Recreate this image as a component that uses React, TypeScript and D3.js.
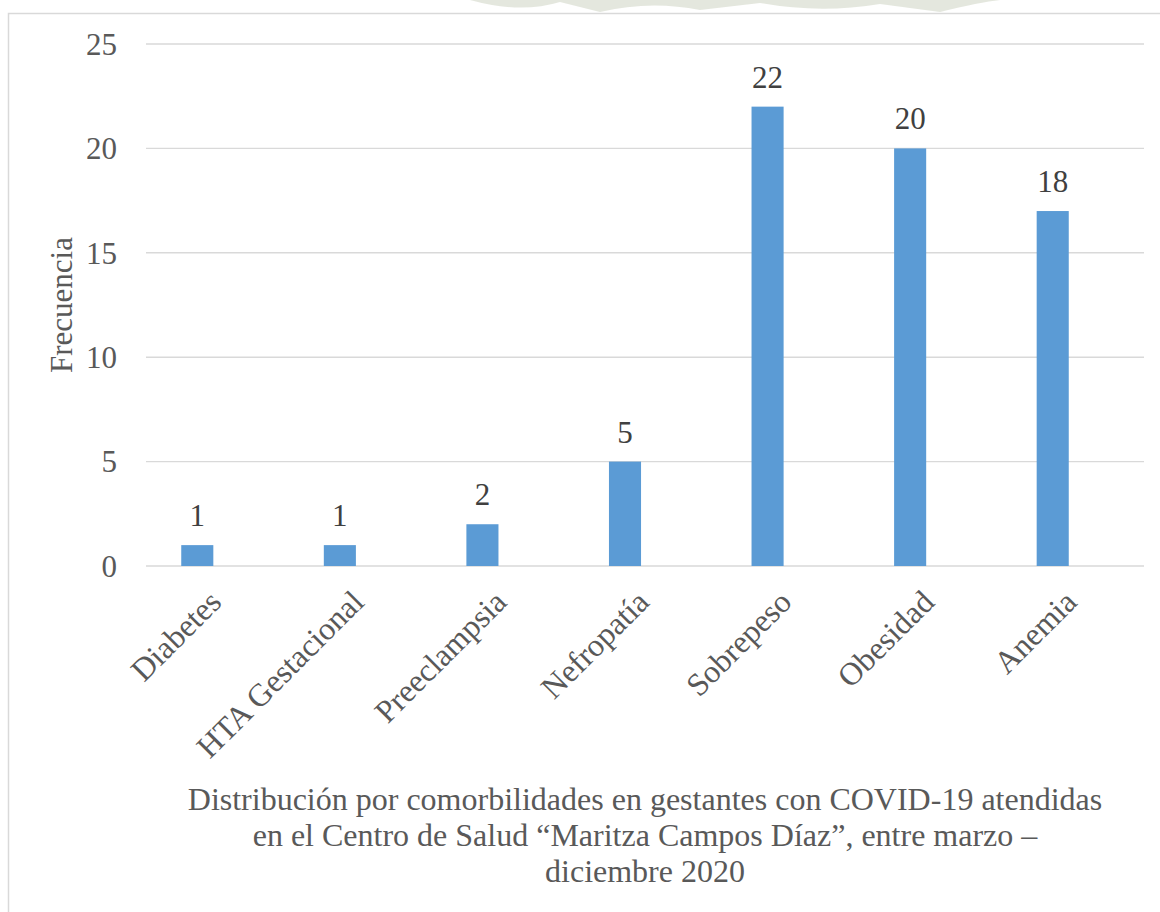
import * as d3 from 'd3';
import React from 'react';

const categories = ['Diabetes', 'HTA Gestacional', 'Preeclampsia', 'Nefropatía', 'Sobrepeso', 'Obesidad', 'Anemia'];
const values = [1, 1, 2, 5, 22, 20, 17];
const valueLabels = ['1', '1', '2', '5', '22', '20', '18'];
const yTicks = [0, 5, 10, 15, 20, 25];
const captionLines = [
  'Distribución por comorbilidades en gestantes con COVID-19 atendidas',
  'en el Centro de Salud “Maritza Campos Díaz”, entre marzo –',
  'diciembre 2020',
];

const font = '"Liberation Serif", "Times New Roman", serif';
const textColor = '#595959';

function App() {
  const width = 1160;
  const height = 912;
  const gridLeft = 146;
  const gridRight = 1144;

  const y = d3.scaleLinear().domain([0, 25]).range([566, 44]);
  const x = d3.scaleBand<string>()
    .domain(categories)
    .range([126, 1124])
    .paddingInner(0.775)
    .paddingOuter(0.3875);

  return (
    <svg width={width} height={height} style={{ position: 'absolute', left: 0, top: 0 }}>
      <rect x={0} y={0} width={width} height={height} fill="#fff" />
      {/* faint watermark above the chart frame */}
      <g fill="#dde1d6" opacity={0.8}>
        <path d="M470,0 Q520,14 560,2 L600,12 Q650,0 700,10 L760,3 Q820,14 880,4 L940,12 Q980,2 1000,0 Z" />
      </g>
      <rect x={8.5} y={13.5} width={1200} height={950} fill="#fff" stroke="#d9d9d9" strokeWidth={1.5} />

      {yTicks.map(t => (
        <g key={t}>
          <line x1={gridLeft} x2={gridRight} y1={y(t)} y2={y(t)} stroke="#d9d9d9" strokeWidth={1.4} />
          <text x={117} y={y(t)} dy="0.35em" textAnchor="end" fontFamily={font} fontSize={31} fill={textColor}>
            {t}
          </text>
        </g>
      ))}

      {categories.map((c, i) => {
        const bx = x(c) as number;
        const cx = bx + x.bandwidth() / 2;
        return (
          <g key={c}>
            <rect x={bx} y={y(values[i])} width={x.bandwidth()} height={y(0) - y(values[i])} fill="#5b9bd5" />
            <text x={cx} y={y(values[i]) - 19} textAnchor="middle" fontFamily={font} fontSize={31} fill="#404040">
              {valueLabels[i]}
            </text>
            <text
              transform={`translate(${cx + 10},${588}) rotate(-45)`}
              textAnchor="end"
              dy="0.7em"
              fontFamily={font}
              fontSize={32}
              fill={textColor}
            >
              {c}
            </text>
          </g>
        );
      })}

      <text
        transform={`translate(72,${y(12.5)}) rotate(-90)`}
        textAnchor="middle"
        fontFamily={font}
        fontSize={31}
        fill={textColor}
      >
        Frecuencia
      </text>

      {captionLines.map((l, i) => (
        <text key={i} x={645} y={810 + i * 36} textAnchor="middle" fontFamily={font} fontSize={32} fill={textColor}>
          {l}
        </text>
      ))}
    </svg>
  );
}

export default App;
